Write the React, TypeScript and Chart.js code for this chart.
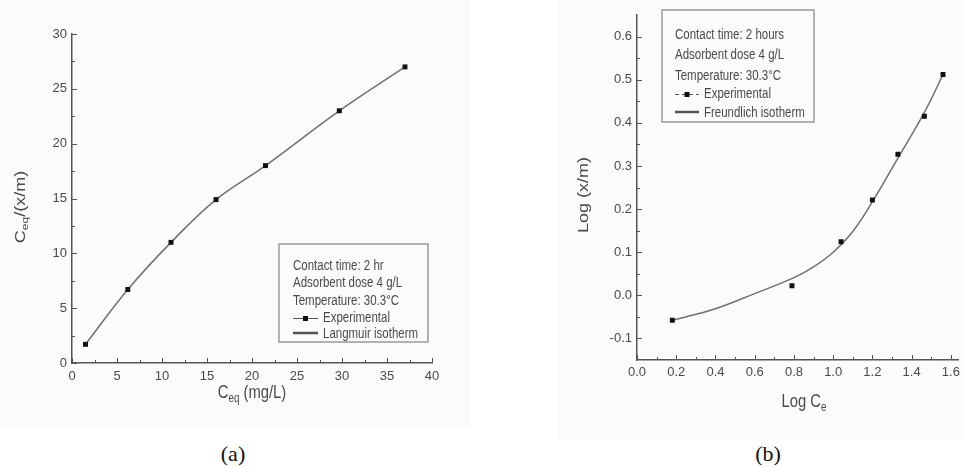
import React, { useEffect, useRef } from "react";
import { Chart, registerables } from "chart.js";
Chart.register(...registerables);

// ---------- (a) Langmuir ----------
const A_CONC = [1.5, 6.2, 11, 16, 21.5, 29.7, 37];
const A_RATIO = [1.7, 6.7, 11, 14.9, 18, 23, 27];
const A_X_TICKS = [0, 5, 10, 15, 20, 25, 30, 35, 40];
const A_Y_TICKS = [0, 5, 10, 15, 20, 25, 30];
const A_X_MINOR = [2.5, 7.5, 12.5, 17.5, 22.5, 27.5, 32.5, 37.5];
const A_Y_MINOR = [2.5, 7.5, 12.5, 17.5, 22.5, 27.5];
const A_NOTES = ["Contact time: 2 hr", "Adsorbent dose 4 g/L", "Temperature: 30.3°C"];
const A_SERIES = ["Experimental", "Langmuir isotherm"];

// ---------- (b) Freundlich ----------
const B_LOGC = [0.18, 0.79, 1.04, 1.2, 1.33, 1.465, 1.56];
const B_LOGQ = [-0.058, 0.022, 0.124, 0.221, 0.327, 0.415, 0.512];
const B_FIT_X = [0.18, 0.4, 0.6, 0.8, 0.9, 1.0, 1.1, 1.2, 1.33, 1.465, 1.56];
const B_FIT_Y = [-0.058, -0.031, 0.004, 0.041, 0.066, 0.1, 0.148, 0.217, 0.318, 0.424, 0.512];
const B_X_TICKS = [0, 0.2, 0.4, 0.6, 0.8, 1.0, 1.2, 1.4, 1.6];
const B_Y_TICKS = [-0.1, 0, 0.1, 0.2, 0.3, 0.4, 0.5, 0.6];
const B_X_MINOR = [0.1, 0.3, 0.5, 0.7, 0.9, 1.1, 1.3, 1.5];
const B_Y_MINOR = [-0.05, 0.05, 0.15, 0.25, 0.35, 0.45, 0.55];
const B_NOTES = ["Contact time: 2 hours", "Adsorbent dose 4 g/L", "Temperature: 30.3°C"];
const B_SERIES = ["Experimental", "Freundlich isotherm"];

const SQUEEZE = 0.82;
const TXT = "#4a4a4a";
const AXIS = "#555555";
const LINE = "#707070";
const TICK_FONT = { family: '"Liberation Sans", Arial, sans-serif', size: 13 };

type Part = { t: string; size: number; dy: number };

function partsWidth(ctx: CanvasRenderingContext2D, parts: Part[]) {
  let w = 0;
  for (const p of parts) {
    ctx.font = `${p.size}px "Liberation Sans", Arial, sans-serif`;
    w += ctx.measureText(p.t).width;
  }
  return w;
}

function drawParts(ctx: CanvasRenderingContext2D, parts: Part[], x: number, y: number, rotated: boolean, centered: boolean) {
  ctx.save();
  ctx.translate(x, y);
  ctx.scale(SQUEEZE, 1);
  if (rotated) ctx.rotate(-Math.PI / 2);
  ctx.fillStyle = TXT;
  ctx.textBaseline = "alphabetic";
  ctx.textAlign = "left";
  let cx = centered ? -partsWidth(ctx, parts) / 2 : 0;
  for (const p of parts) {
    ctx.font = `${p.size}px "Liberation Sans", Arial, sans-serif`;
    ctx.fillText(p.t, cx, p.dy);
    cx += ctx.measureText(p.t).width;
  }
  ctx.restore();
}

type LegendSpec = {
  box: [number, number, number, number];
  textX: number;
  seriesX: number;
  baselines: number[];
  notes: string[];
  series: string[];
  dashed: boolean;
};

type DecorSpec = {
  xMajor: number[]; yMajor: number[]; xMinor: number[]; yMinor: number[];
  xTitle: Part[]; xTitlePos: [number, number];
  yTitle: Part[]; yTitlePos: [number, number];
  legend: LegendSpec;
};

function makeDecor(spec: DecorSpec) {
  return {
    id: "decor",
    afterDraw(chart: any) {
      const ctx: CanvasRenderingContext2D = chart.ctx;
      const ca = chart.chartArea;
      const sx = chart.scales.x;
      const sy = chart.scales.y;
      ctx.save();
      ctx.strokeStyle = AXIS;
      ctx.lineWidth = 1;
      const tx = (vals: number[], len: number) => vals.forEach((v) => {
        const p = Math.round(sx.getPixelForValue(v)) + 0.5;
        ctx.beginPath(); ctx.moveTo(p, ca.bottom); ctx.lineTo(p, ca.bottom - len); ctx.stroke();
      });
      const ty = (vals: number[], len: number) => vals.forEach((v) => {
        const p = Math.round(sy.getPixelForValue(v)) + 0.5;
        ctx.beginPath(); ctx.moveTo(ca.left, p); ctx.lineTo(ca.left + len, p); ctx.stroke();
      });
      tx(spec.xMajor, 5); tx(spec.xMinor, 3);
      ty(spec.yMajor, 5); ty(spec.yMinor, 3);
      ctx.restore();

      drawParts(ctx, spec.xTitle, spec.xTitlePos[0], spec.xTitlePos[1], false, true);
      drawParts(ctx, spec.yTitle, spec.yTitlePos[0], spec.yTitlePos[1], true, true);

      const L = spec.legend;
      ctx.save();
      ctx.strokeStyle = "#9a9a9a";
      ctx.lineWidth = 1.5;
      ctx.strokeRect(L.box[0], L.box[1], L.box[2], L.box[3]);
      ctx.restore();
      L.notes.forEach((t, i) => drawParts(ctx, [{ t, size: 14, dy: 0 }], L.textX, L.baselines[i], false, false));
      const yExp = L.baselines[3] - 4;
      ctx.save();
      ctx.strokeStyle = "#555";
      ctx.lineWidth = 1;
      if (L.dashed) ctx.setLineDash([4, 3]);
      ctx.beginPath(); ctx.moveTo(L.textX, yExp + 0.5); ctx.lineTo(L.seriesX - 5, yExp + 0.5); ctx.stroke();
      ctx.setLineDash([]);
      ctx.fillStyle = "#111";
      const mid = (L.textX + L.seriesX - 5) / 2;
      ctx.fillRect(mid - 2.5, yExp - 2, 5, 5);
      const yFit = L.baselines[4] - 5;
      ctx.strokeStyle = "#555";
      ctx.lineWidth = 2.5;
      ctx.beginPath(); ctx.moveTo(L.textX, yFit); ctx.lineTo(L.seriesX - 5, yFit); ctx.stroke();
      ctx.restore();
      L.series.forEach((t, i) => drawParts(ctx, [{ t, size: 14, dy: 0 }], L.seriesX, L.baselines[3 + i], false, false));
    },
  };
}

const X_AXIS_H = 22;

function buildChart(
  canvas: HTMLCanvasElement,
  pts: { x: number; y: number }[],
  fit: { x: number; y: number }[],
  xr: [number, number], yr: [number, number],
  xTicks: number[], yTicks: number[],
  decimals: number,
  padding: { left: number; right: number; top: number; bottom: number },
  yWidth: number, xPad: number, yPad: number,
  decor: any
) {
  return new Chart(canvas, {
    type: "scatter",
    data: {
      datasets: [
        {
          type: "line",
          data: fit,
          borderColor: LINE,
          borderWidth: 1.5,
          pointRadius: 0,
          tension: 0.4,
          showLine: true,
          fill: false,
          order: 2,
        } as any,
        {
          type: "scatter",
          data: pts,
          pointStyle: "rect",
          pointRadius: 3.5,
          backgroundColor: "#111",
          borderColor: "#111",
          borderWidth: 0,
          order: 1,
        } as any,
      ],
    },
    options: {
      animation: false,
      responsive: false,
      devicePixelRatio: 1,
      layout: { padding },
      plugins: { legend: { display: false }, tooltip: { enabled: false }, title: { display: false } },
      scales: {
        x: {
          type: "linear",
          min: xr[0], max: xr[1],
          afterBuildTicks: (s: any) => { s.ticks = xTicks.map((v) => ({ value: v })); },
          afterFit: (s: any) => { s.height = X_AXIS_H; },
          ticks: {
            font: TICK_FONT, color: TXT, padding: xPad, maxRotation: 0, minRotation: 0, autoSkip: false,
            callback: (v: any) => Number(v).toFixed(decimals),
          },
          grid: { display: true, drawOnChartArea: false, drawTicks: false },
          border: { display: true, color: AXIS, width: 1.5 },
        },
        y: {
          type: "linear",
          min: yr[0], max: yr[1],
          afterBuildTicks: (s: any) => { s.ticks = yTicks.map((v) => ({ value: v })); },
          afterFit: (s: any) => { s.width = yWidth; },
          ticks: {
            font: TICK_FONT, color: TXT, padding: yPad, autoSkip: false,
            callback: (v: any) => Number(v).toFixed(decimals),
          },
          grid: { display: true, drawOnChartArea: false, drawTicks: false },
          border: { display: true, color: AXIS, width: 1.5 },
        },
      },
    } as any,
    plugins: [decor],
  });
}

function PanelA() {
  const ref = useRef<HTMLCanvasElement>(null);
  useEffect(() => {
    const pts = A_CONC.map((x, i) => ({ x, y: A_RATIO[i] }));
    const decor = makeDecor({
      xMajor: A_X_TICKS, yMajor: A_Y_TICKS, xMinor: A_X_MINOR, yMinor: A_Y_MINOR,
      xTitle: [{ t: "C", size: 18, dy: 0 }, { t: "eq", size: 12, dy: 4 }, { t: " (mg/L)", size: 18, dy: 0 }],
      xTitlePos: [252, 398],
      yTitle: [{ t: "C", size: 18, dy: 0 }, { t: "eq", size: 12, dy: 4 }, { t: "/(x/m)", size: 18, dy: 0 }],
      yTitlePos: [25, 207],
      legend: {
        box: [279, 244, 149, 98], textX: 293, seriesX: 323,
        baselines: [270, 287, 305, 322, 338],
        notes: A_NOTES, series: A_SERIES, dashed: false,
      },
    });
    const chart = buildChart(
      ref.current!, pts, pts, [0, 40], [0, 30], A_X_TICKS, A_Y_TICKS, 0,
      { left: 0, right: 38, top: 34, bottom: 64 - X_AXIS_H }, 72, 6, 5, decor
    );
    return () => chart.destroy();
  }, []);
  return <canvas ref={ref} width={470} height={427} style={{ position: "absolute", left: 0, top: 0, width: 470, height: 427, background: "#fbfbfb" }} />;
}

function PanelB() {
  const ref = useRef<HTMLCanvasElement>(null);
  useEffect(() => {
    const pts = B_LOGC.map((x, i) => ({ x, y: B_LOGQ[i] }));
    const fit = B_FIT_X.map((x, i) => ({ x, y: B_FIT_Y[i] }));
    const decor = makeDecor({
      xMajor: B_X_TICKS, yMajor: B_Y_TICKS, xMinor: B_X_MINOR, yMinor: B_Y_MINOR,
      xTitle: [{ t: "Log C", size: 18, dy: 0 }, { t: "e", size: 12, dy: 4 }],
      xTitlePos: [246, 407],
      yTitle: [{ t: "Log (x/m)", size: 18, dy: 0 }],
      yTitlePos: [30, 195],
      legend: {
        box: [104, 10, 152, 112], textX: 117, seriesX: 146,
        baselines: [39, 59, 80, 98, 117],
        notes: B_NOTES, series: B_SERIES, dashed: true,
      },
    });
    const chart = buildChart(
      ref.current!, pts, fit, [0, 1.64], [-0.15, 0.65], B_X_TICKS, B_Y_TICKS, 1,
      { left: 0, right: 0, top: 15, bottom: 80 - X_AXIS_H }, 79, 5, 5, decor
    );
    return () => chart.destroy();
  }, []);
  return <canvas ref={ref} width={407} height={440} style={{ position: "absolute", left: 558, top: 0, width: 407, height: 440, background: "#fbfbfb" }} />;
}

const capStyle: React.CSSProperties = {
  position: "absolute", transform: "translate(-50%, -50%)",
  fontFamily: '"Liberation Serif", "Times New Roman", serif', fontSize: 22, lineHeight: 1, color: "#111",
};

export default function App() {
  return (
    <div style={{ position: "fixed", left: 0, top: 0, width: 965, height: 467, background: "#fff", overflow: "hidden" }}>
      <PanelA />
      <PanelB />
      <div style={{ ...capStyle, left: 233, top: 454 }}>(a)</div>
      <div style={{ ...capStyle, left: 768, top: 454 }}>(b)</div>
    </div>
  );
}
